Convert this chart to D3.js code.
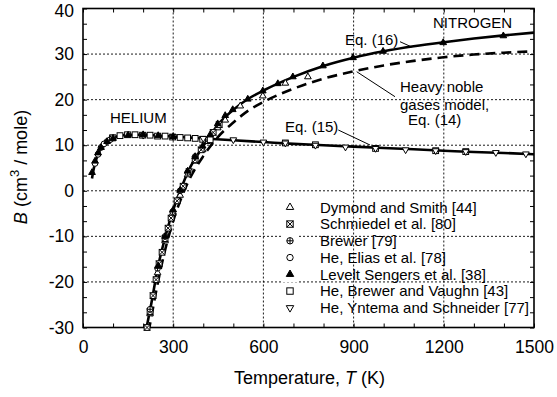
<!DOCTYPE html>
<html><head><meta charset="utf-8">
<script src="https://cdn.jsdelivr.net/npm/d3@7"></script>
<style>body{margin:0;background:#fff}svg{display:block;font-family:"Liberation Sans",Arial,sans-serif}</style>
</head><body><svg id="c" width="557" height="397"></svg>
<script>
// ---- data ----
const xTicks = [0, 300, 600, 900, 1200, 1500];
const yTicks = [-30, -20, -10, 0, 10, 20, 30, 40];
// Eq. (15) helium curve
const heT = [30, 35, 40, 50, 60, 70, 80, 100, 125, 150, 200, 250, 300, 400, 500, 600, 700, 800, 900, 1000, 1100, 1200, 1300, 1400, 1500];
const heB = [2.7, 4.6, 6.0, 8.0, 9.3, 10.2, 10.8, 11.6, 12.1, 12.3, 12.3, 12.1, 11.9, 11.5, 11.1, 10.7, 10.3, 10.0, 9.7, 9.4, 9.1, 8.8, 8.5, 8.3, 8.0];
// Eq. (16) nitrogen curve
const n16T = [210, 225, 250, 275, 300, 325, 350, 400, 450, 500, 550, 600, 700, 800, 900, 1000, 1100, 1200, 1300, 1400, 1500];
const n16B = [-30.5, -25.5, -16.5, -9.8, -4.2, 0.3, 4.3, 9.8, 14.6, 17.8, 20.2, 22.0, 25.0, 27.4, 29.2, 30.6, 31.7, 32.6, 33.4, 34.1, 34.7];
// Eq. (14) heavy noble gases model
const n14T = [218, 225, 250, 275, 300, 325, 350, 400, 450, 500, 550, 600, 700, 800, 900, 1000, 1100, 1200, 1300, 1400, 1500];
const n14B = [-31, -28.5, -19.8, -12.5, -6.6, -1.9, 2.0, 7.6, 11.9, 15.0, 17.6, 19.5, 22.4, 24.6, 26.2, 27.5, 28.5, 29.3, 29.9, 30.3, 30.6];
// data sets
const dymondT = [223, 248, 273, 298, 323, 348, 373, 398, 423, 448, 473, 523, 598, 673, 748];
const dymondB = [-27, -18, -11, -5, -1, 3.5, 6.5, 9, 11.8, 13.8, 15.5, 18.6, 20.8, 23.6, 25.0];
const schmiedelT = [213, 223, 233, 243, 253, 263, 273, 283, 293, 313, 333, 353, 373, 393, 413, 433, 453];
const schmiedelB = [-30, -26.5, -23, -19.5, -16, -13.5, -10.5, -8.2, -6, -2.2, 1, 4.2, 6.8, 9, 11, 12.8, 14.5];
const brewerT = [223, 248, 273, 298, 323, 348, 373];
const brewerB = [-26, -17, -10, -4.6, 0, 4, 7.5];
const eliasT = [40, 50, 60, 70, 80, 90, 100];
const eliasB = [6, 8, 9.5, 10.3, 10.8, 11.2, 11.6];
const leveltT = [30, 40, 50, 60, 80, 100, 150, 200, 250, 300, 250, 273, 300, 323, 348, 373, 398, 423, 448, 473, 498, 548, 598, 648, 698, 798, 898, 998, 1198, 1398];
const leveltB = [4, 6.5, 8.3, 9.5, 10.8, 11.5, 12.2, 12.3, 12.1, 11.9, -16.5, -10, -4.2, 0.1, 4.3, 7.5, 9.8, 12.3, 14.7, 16.5, 17.8, 20.1, 21.9, 23.5, 25, 27.4, 29.2, 30.6, 32.5, 34.0];
const bvT = [98, 123, 148, 173, 198, 223, 248, 273, 298, 323, 348, 373, 398, 423, 673, 773, 973, 1173, 1273];
const bvB = [11.6, 12.1, 12.3, 12.3, 12.2, 12.2, 12.0, 12.0, 11.8, 11.7, 11.6, 11.5, 11.3, 11.2, 10.5, 10.1, 9.3, 8.8, 8.6];
const yntemaT = [100, 200, 300, 400, 500, 600, 673, 773, 873, 973, 1073, 1173, 1273, 1373, 1473];
const yntemaB = [11.8, 12.2, 11.9, 11.5, 11.2, 10.7, 10.5, 10.0, 9.6, 9.3, 9.0, 8.8, 8.6, 8.4, 8.1];
const legendLabels = ["Dymond and Smith [44]", "Schmiedel et al. [80]", "Brewer [79]", "He, Elias et al. [78]", "Levelt Sengers et al. [38]", "He, Brewer and Vaughn [43]", "He, Yntema and Schneider [77]"];
const legendKinds = ["triOpen", "boxX", "circPlus", "circ", "triFill", "square", "triDown"];

// ---- layout ----
const L = 83, R = 534, T = 8.5, B = 327.5;
const svg = d3.select("#c");
const x = d3.scaleLinear().domain([0, 1500]).range([L, R]);
const y = d3.scaleLinear().domain([-30, 40]).range([B, T]);

// grid
const grid = svg.append("g").attr("stroke", "#000").attr("stroke-width", 0.9).attr("stroke-dasharray", "2,2");
[300, 600, 900, 1200].forEach(v => grid.append("line").attr("x1", x(v)).attr("x2", x(v)).attr("y1", T).attr("y2", B));
[-20, -10, 0, 10, 20, 30].forEach(v => grid.append("line").attr("y1", y(v)).attr("y2", y(v)).attr("x1", L).attr("x2", R));

// axes with inward ticks
const xMinor = d3.range(0, 1501, 100), yMinor = d3.range(-30, 40.01, 10 / 3);
function axisG(ax, tr) { return svg.append("g").attr("transform", tr).call(ax); }
const fontSize = 17.5;
const xb = axisG(d3.axisBottom(x).tickValues(xMinor).tickSize(-4).tickFormat(""), `translate(0,${B})`);
const xt = axisG(d3.axisTop(x).tickValues(xMinor).tickSize(-4).tickFormat(""), `translate(0,${T})`);
const yl = axisG(d3.axisLeft(y).tickValues(yMinor).tickSize(-4).tickFormat(""), `translate(${L},0)`);
const yr = axisG(d3.axisRight(y).tickValues(yMinor).tickSize(-4).tickFormat(""), `translate(${R},0)`);
[xb, xt, yl, yr].forEach(g => { g.select(".domain").remove(); g.selectAll("line").attr("stroke", "#000").attr("stroke-width", 1); });
svg.append("rect").attr("x", L).attr("y", T).attr("width", R - L).attr("height", B - T).attr("fill", "none").attr("stroke", "#000").attr("stroke-width", 1.6);

// tick labels
const xl = axisG(d3.axisBottom(x).tickValues(xTicks).tickSize(0).tickPadding(13).tickFormat(d => String(d)), `translate(0,${B})`);
const yll = axisG(d3.axisLeft(y).tickValues(yTicks).tickSize(0).tickPadding(9).tickFormat(d => String(d)), `translate(${L},0)`);
[xl, yll].forEach(g => { g.select(".domain").remove(); g.selectAll("text").attr("font-size", fontSize).attr("font-family", "Liberation Sans, Arial, sans-serif").attr("fill", "#000"); });
yll.selectAll("text").filter(d => d === 40).attr("dy", "0.45em");

// axis titles
const xt2 = svg.append("text").attr("x", (L + R) / 2 + 1).attr("y", 384).attr("text-anchor", "middle").attr("font-size", 18);
xt2.append("tspan").text("Temperature,  ");
xt2.append("tspan").attr("font-style", "italic").text("T");
xt2.append("tspan").text(" (K)");
const yt = svg.append("text").attr("transform", `translate(27,167) rotate(-90)`).attr("text-anchor", "middle").attr("font-size", 18);
yt.append("tspan").attr("font-style", "italic").text("B");
yt.append("tspan").text("  (cm");
yt.append("tspan").attr("dy", -8).attr("font-size", 13).text("3");
yt.append("tspan").attr("dy", 8).text(" / mole)");

// curves
const line = d3.line().x(d => x(d[0])).y(d => y(d[1])).curve(d3.curveMonotoneX);
svg.append("clipPath").attr("id", "cp").append("rect").attr("x", L).attr("y", T).attr("width", R - L).attr("height", B - T);
const cg = svg.append("g").attr("clip-path", "url(#cp)");
cg.append("path").attr("d", line(d3.zip(n14T, n14B))).attr("fill", "none").attr("stroke", "#000").attr("stroke-width", 2.6).attr("stroke-dasharray", "10,6");
cg.append("path").attr("d", line(d3.zip(n16T, n16B))).attr("fill", "none").attr("stroke", "#000").attr("stroke-width", 2.6);
cg.append("path").attr("d", line(d3.zip(heT, heB))).attr("fill", "none").attr("stroke", "#000").attr("stroke-width", 2.6);

// markers
function drawMarker(g, kind, cx, cy, sc) {
  const s = 3.2 * (sc || 1);
  const m = g.append("g").attr("transform", `translate(${cx},${cy})`).attr("stroke", "#000").attr("stroke-width", 1);
  if (kind === "triOpen" || kind === "triFill") {
    m.append("path").attr("d", d3.symbol(d3.symbolTriangle, 24 * (sc || 1) * (sc || 1))()).attr("fill", kind === "triFill" ? "#000" : "#fff");
  } else if (kind === "triDown") {
    m.append("path").attr("d", d3.symbol(d3.symbolTriangle, 24 * (sc || 1) * (sc || 1))()).attr("transform", "rotate(180)").attr("fill", "#fff");
  } else if (kind === "square") {
    m.append("rect").attr("x", -s).attr("y", -s).attr("width", 2 * s).attr("height", 2 * s).attr("fill", "#fff");
  } else if (kind === "boxX") {
    m.append("rect").attr("x", -s).attr("y", -s).attr("width", 2 * s).attr("height", 2 * s).attr("fill", "#fff");
    m.append("path").attr("d", `M${-s},${-s}L${s},${s}M${-s},${s}L${s},${-s}`);
  } else if (kind === "circ") {
    m.append("circle").attr("r", s).attr("fill", "#fff");
  } else if (kind === "circPlus") {
    m.append("circle").attr("r", s).attr("fill", "#fff");
    m.append("path").attr("d", `M${-s},0H${s}M0,${-s}V${s}`);
  }
}
const mg = svg.append("g");
[[dymondT, dymondB, "triOpen"], [schmiedelT, schmiedelB, "boxX"], [brewerT, brewerB, "circPlus"], [eliasT, eliasB, "circ"],
 [bvT, bvB, "square"], [yntemaT, yntemaB, "triDown"], [leveltT, leveltB, "triFill"]].forEach(([ts, bs, k]) => {
  ts.forEach((t, i) => drawMarker(mg, k, x(t), y(bs[i]), 0.9));
});

// legend
const lg = svg.append("g");
legendLabels.forEach((lab, i) => {
  const yy = 207.3 + i * 16.75;
  lg.append("rect").attr("x", 283).attr("y", yy - 8).attr("width", 14).attr("height", 16).attr("fill", "#fff");
  drawMarker(lg, legendKinds[i], 290, yy, 1);
  lg.append("text").attr("x", 320).attr("y", yy + 5.3).attr("font-size", 15).text(lab);
});

// annotations
const ann = svg.append("g").attr("font-size", 15);
ann.append("text").attr("x", 110).attr("y", 122.5).text("HELIUM");
ann.append("text").attr("x", 433).attr("y", 27.5).text("NITROGEN");
ann.append("text").attr("x", 345).attr("y", 45).text("Eq. (16)");
ann.append("text").attr("x", 400).attr("y", 92).text("Heavy noble");
ann.append("text").attr("x", 400).attr("y", 109.5).text("gases model,");
ann.append("text").attr("x", 408).attr("y", 125).text("Eq. (14)");
ann.append("text").attr("x", 285).attr("y", 132).text("Eq. (15)");
const ld = svg.append("g").attr("stroke", "#000").attr("stroke-width", 1);
ld.append("line").attr("x1", 356.7).attr("y1", 71.7).attr("x2", 395).attr("y2", 96.7);
ld.append("line").attr("x1", 338.3).attr("y1", 130).attr("x2", 370).attr("y2", 145);
ld.append("line").attr("x1", 400).attr("y1", 41.7).attr("x2", 411.7).attr("y2", 47);
</script></body></html>
